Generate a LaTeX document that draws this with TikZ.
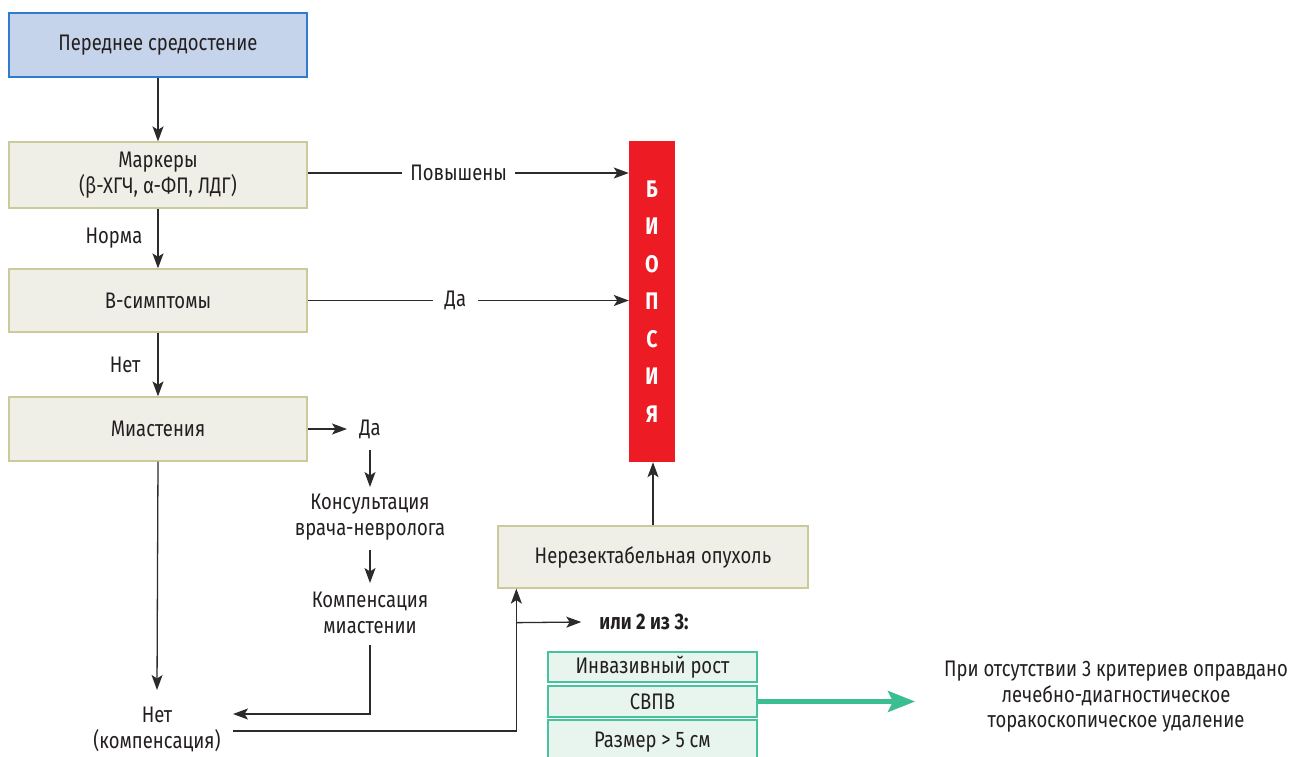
\documentclass[tikz,border=0pt]{standalone}
\usepackage{fontspec}
\setmainfont{Fira Sans}[FakeStretch=0.82]
\usetikzlibrary{arrows.meta}
\definecolor{bluefill}{HTML}{C6D4EB}
\definecolor{blueline}{HTML}{2E7BCF}
\definecolor{beigefill}{HTML}{EFEFE7}
\definecolor{beigeline}{HTML}{CCC99B}
\definecolor{biored}{HTML}{ED1C24}
\definecolor{greenfill}{HTML}{E8F5EE}
\definecolor{greenline}{HTML}{45C39B}
\definecolor{greenarrow}{HTML}{3CBE93}
\definecolor{linegray}{HTML}{2B2B2B}
\definecolor{txtblack}{HTML}{231F20}
\tikzset{
  basefont/.style={font=\fontsize{22.5}{26}\selectfont, text=txtblack},
  mainbox/.style={basefont, draw=beigeline, fill=beigefill, line width=1.3pt,
    minimum width=298pt, inner sep=0pt, align=center},
  topbox/.style={mainbox, draw=blueline, fill=bluefill},
  biobox/.style={fill=biored, draw=none, minimum width=46pt, minimum height=321pt,
    inner sep=0pt, align=center, text=white,
    font=\fontsize{24}{37.5}\selectfont\bfseries},
  critbox/.style={basefont, draw=greenline, fill=greenfill, line width=1.3pt,
    minimum width=209pt, inner sep=0pt, align=center},
  plain/.style={basefont, inner sep=0pt, align=center},
  lbl/.style={basefont, fill=white, inner xsep=8pt, inner ysep=2pt},
  arr/.style={draw=linegray, line width=1.3pt, -{Stealth[length=15pt,width=11pt,inset=3.5pt]}},
  garr/.style={draw=greenarrow, line width=4.5pt, -{Stealth[length=27pt,width=21pt,inset=5pt]}},
}
\begin{document}
\begin{tikzpicture}[x=1pt,y=-1pt]
\useasboundingbox (0,0) rectangle (1293,756);
\fill[white] (0,0) rectangle (1293,756);

% main column
\node[topbox, minimum height=64pt] (b1) at (158,45) {Переднее средостение};
\node[mainbox, minimum height=66pt] (b2) at (158,175) {Маркеры\\(β-ХГЧ, α-ФП, ЛДГ)};
\node[mainbox, minimum height=63pt] (b3) at (158,300.5) {В-симптомы};
\node[mainbox, minimum height=64pt] (b4) at (158,429) {Миастения};

% biopsy column
\node[biobox] (bio) at (652,301.5) {Б\\И\\О\\П\\С\\И\\Я};

% myasthenia branch
\node[plain] (da2) at (370,429) {Да};
\node[plain] (kons) at (370,517) {Консультация\\врача-невролога};
\node[plain] (komp) at (370,613) {Компенсация\\миастении};
\node[plain] (net) at (157,729) {Нет\\(компенсация)};

% unresectable tumour
\node[mainbox, minimum width=310pt, minimum height=62pt] (nerez) at (653,557) {Нерезектабельная опухоль};
\node[plain, font=\fontsize{22.5}{26}\selectfont\bfseries] (ili) at (644,622) {или 2 из 3:};

% criteria
\node[critbox, minimum height=30pt] (g1) at (652.5,667) {Инвазивный рост};
\node[critbox, minimum height=31pt] (g2) at (652.5,701.5) {СВПВ};
\node[critbox, minimum height=44pt] (g3) at (652.5,742) {Размер > 5 см};

\node[plain, font=\fontsize{22.5}{25.5}\selectfont] (note) at (1116,697)
  {При отсутствии 3 критериев оправдано\\лечебно-диагностическое\\торакоскопическое удаление};

% connectors
\draw[arr] (b1.south) -- (b2.north);
\draw[arr] (b2.south) -- node[midway, left, basefont, inner xsep=15pt] (norma) {Норма} (b3.north);
\draw[arr] (b3.south) -- node[midway, left, basefont, inner xsep=17pt] (net1) {Нет} (b4.north);

\draw[arr] ([yshift=2pt]b2.east) -- node[lbl, pos=0.47] (povy) {Повышены} ([yshift=2pt]b2.east -| bio.west);
\draw[arr] (b3.east) -- node[lbl, pos=0.46, inner xsep=12pt] (da1) {Да} (b3.east -| bio.west);

\draw[arr] (b4.east) -- ([xshift=-23pt]da2.center);
\draw[arr] ([yshift=-21pt]da2.center) -- ([yshift=30pt]kons.center);
\draw[arr] ([yshift=-33pt]kons.center) -- ([yshift=30pt]komp.center);
\draw[arr] ([yshift=-32pt]komp.center) |- ([xshift=76pt,yshift=15pt]net.center);
\draw[arr] (b4.south) -- ([yshift=39pt]net.center);

\draw[arr] ([xshift=76pt,yshift=-2pt]net.center) -| ([xshift=19pt]nerez.south west);
\coordinate (br) at ([xshift=19pt,yshift=-34pt]nerez.south west);
\draw[arr] (br) -- ([xshift=-18pt]ili.west);

\draw[arr] (nerez.north) -- (nerez.north |- bio.south);

\draw[garr] (g2.east) -- ([xshift=-201pt]g2.east -| note.center);
\end{tikzpicture}
\end{document}
